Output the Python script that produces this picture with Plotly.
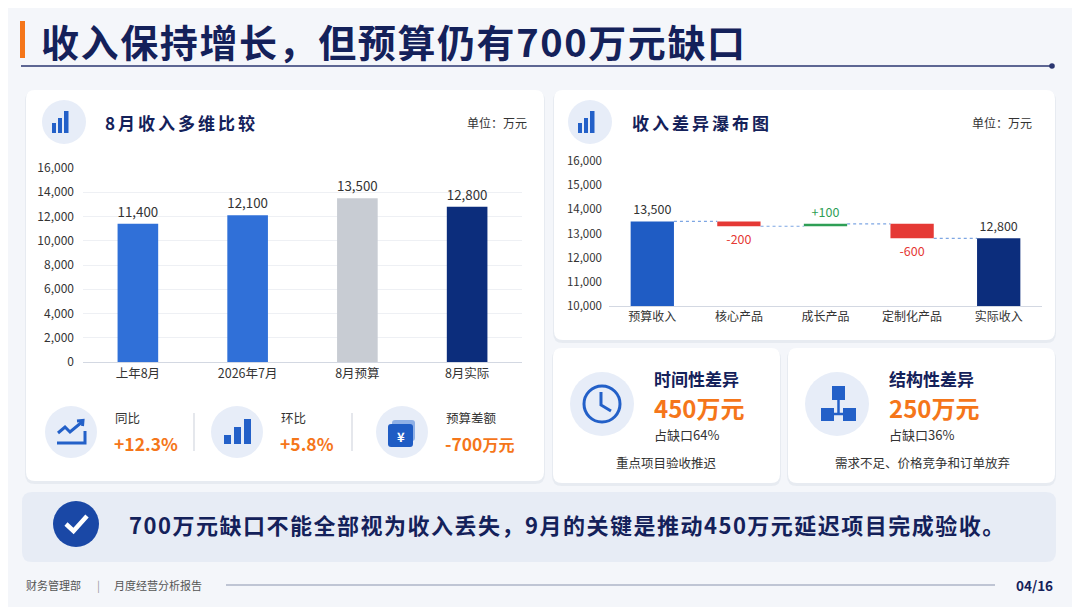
import plotly.graph_objects as go

W, H = 1080, 607
OFF = 8  # page margin the browser adds round the figure
FONT = 'Noto Sans CJK SC'
NAVY = '#14215a'
ORANGE = '#f5761a'
BLUE = '#2360c8'

# data
months = ['上年8月', '2026年7月', '8月预算', '8月实际']
month_rev = [11400, 12100, 13500, 12800]
month_colors = ['#3070d8', '#3070d8', '#c8ccd3', '#0c2d7c']

wf_cats = ['预算收入', '核心产品', '成长产品', '定制化产品', '实际收入']
wf_start = 13500
wf_deltas = [-200, 100, -600]
wf_end = 12800
wf_colors = ['#1f5cc4', '#e53935', '#2e9e55', '#e53935', '#0c2d7c']
wf_text_colors = ['#333333', '#e53935', '#2e9e55', '#e53935', '#333333']

kpi_names = ['同比', '环比', '预算差额']
kpi_values = ['+12.3%', '+5.8%', '-700']
kpi_units = ['', '', '万元']

gap_names = ['时间性差异', '结构性差异']
gap_amounts = [450, 250]
gap_shares = [64, 36]
gap_reasons = ['重点项目验收推迟', '需求不足、价格竞争和订单放弃']


def X(px):
    return (px - OFF) / W


def Y(py):
    return 1 - (py - OFF) / H


def P(x, y):
    return f'{X(x):.5f},{Y(y):.5f}'


shapes = []
ann = []


def rrect(x0, y0, x1, y1, r, fill, layer='below', line=None):
    path = (f'M {P(x0 + r, y0)} L {P(x1 - r, y0)} Q {P(x1, y0)} {P(x1, y0 + r)} '
            f'L {P(x1, y1 - r)} Q {P(x1, y1)} {P(x1 - r, y1)} L {P(x0 + r, y1)} '
            f'Q {P(x0, y1)} {P(x0, y1 - r)} L {P(x0, y0 + r)} Q {P(x0, y0)} {P(x0 + r, y0)} Z')
    shapes.append(dict(type='path', xref='paper', yref='paper', path=path, fillcolor=fill,
                       line=line or dict(width=0), layer=layer))


def rect(x0, y0, x1, y1, fill):
    shapes.append(dict(type='rect', xref='paper', yref='paper', x0=X(x0), x1=X(x1), y0=Y(y1), y1=Y(y0),
                       fillcolor=fill, line=dict(width=0), layer='above'))


def circle(cx, cy, r, fill, line=None):
    shapes.append(dict(type='circle', xref='paper', yref='paper', x0=X(cx - r), x1=X(cx + r),
                       y0=Y(cy + r), y1=Y(cy - r), fillcolor=fill, line=line or dict(width=0),
                       layer='above'))


def seg(pts, color, width):
    path = 'M ' + ' L '.join(P(x, y) for x, y in pts)
    shapes.append(dict(type='path', xref='paper', yref='paper', path=path,
                       line=dict(color=color, width=width), layer='above'))


def card(x0, y0, x1, y1):
    rrect(x0 - 1, y0 + 1, x1 + 1, y1 + 3, 10, 'rgba(40,60,110,0.06)')
    rrect(x0, y0, x1, y1, 9, '#ffffff')


def txt(x, y, s, size, color, anchor='left', bold=False, spacing=0):
    if spacing:
        s = f'<span style="letter-spacing:{spacing}px">{s}</span>'
    ann.append(dict(x=X(x), y=Y(y), xref='paper', yref='paper', text=f'<b>{s}</b>' if bold else s,
                    showarrow=False, xanchor=anchor, yanchor='middle',
                    font=dict(family=FONT, size=size, color=color)))


def bars_icon(cx, cy):
    circle(cx, cy, 22, '#e7edf8')
    rect(cx - 12, cy + 1, cx - 8, cy + 11, BLUE)
    rect(cx - 6, cy - 4, cx - 2, cy + 11, BLUE)
    rect(cx, cy - 11, cx + 4.5, cy + 11, BLUE)


# title block
rect(20, 21, 25, 58, ORANGE)
txt(39, 41, '收入保持增长，但预算仍有700万元缺口', 38, NAVY, bold=True, spacing=1.6)
seg([(21, 66), (1051, 66)], '#2b3670', 1.6)
circle(1052, 66, 2.8, '#2b3670')

# cards
card(26, 90, 544, 481)
card(554, 90, 1055, 340)
card(553, 348, 780, 483)
card(788, 348, 1055, 483)
rrect(22, 492, 1056, 562, 10, '#e7ecf5')

# headers
bars_icon(64, 122)
txt(103, 123, '8月收入多维比较', 17, NAVY, bold=True, spacing=3)
txt(529, 123, '单位：万元', 12, '#333333', anchor='right')
bars_icon(590, 122)
txt(630, 123, '收入差异瀑布图', 17, NAVY, bold=True, spacing=3)
txt(1034, 123, '单位：万元', 12, '#333333', anchor='right')

# KPI row
kpi_x = [71, 237, 402]
for i, cx in enumerate(kpi_x):
    circle(cx, 432, 26, '#e7edf8')
    txt(cx + 42, 417, kpi_names[i], 12.5, '#333333')
    val = f'<b>{kpi_values[i]}</b>'
    if kpi_units[i]:
        val += f'<span style="font-size:16px"><b>{kpi_units[i]}</b></span>'
    ann.append(dict(x=X(cx + 41), y=Y(443), xref='paper', yref='paper', text=val, showarrow=False,
                    xanchor='left', yanchor='middle', font=dict(family=FONT, size=17.5, color=ORANGE)))
for dx in [194, 352]:
    seg([(dx, 413), (dx, 451)], '#d4d8e0', 1.2)
# trend icon
seg([(58, 433), (65, 427), (70, 432), (82, 422)], BLUE, 3)
seg([(77, 421), (83, 420.5), (82.5, 426)], BLUE, 3)
seg([(57, 443), (85, 443), (85, 431)], BLUE, 3)
# bars icon
rect(224, 435, 231, 444, BLUE)
rect(234, 427, 241, 444, BLUE)
rect(244, 419, 251, 444, BLUE)
# wallet icon
rrect(392, 420, 415, 441, 3, '#8fb0e6', layer='above')
rrect(388, 424, 413, 447, 3, '#1f5cc4', layer='above')
txt(400.5, 436, '<b>¥</b>', 13, '#ffffff', anchor='center')

# gap cards
for i, cx in enumerate([602, 837]):
    circle(cx, 404, 32, '#e7edf8')
    tx = cx + 50
    txt(tx, 378, gap_names[i], 17, NAVY, bold=True)
    ann.append(dict(x=X(tx), y=Y(407), xref='paper', yref='paper',
                    text=f'<b>{gap_amounts[i]}万元</b>', showarrow=False, xanchor='left',
                    yanchor='middle', font=dict(family=FONT, size=24, color=ORANGE)))
    txt(tx, 434, f'占缺口{gap_shares[i]}%', 13, '#333333')
txt(666, 463, gap_reasons[0], 12.5, '#333333', anchor='center')
txt(922, 463, gap_reasons[1], 12.5, '#333333', anchor='center')
# clock icon
circle(602, 404, 18, 'rgba(0,0,0,0)', line=dict(color=BLUE, width=3))
seg([(601, 392), (601, 405), (611, 411)], BLUE, 3)
# structure icon
rect(832, 386, 845, 400, BLUE)
rect(821, 408, 834, 421, BLUE)
rect(843, 408, 856, 421, BLUE)
seg([(838.5, 400), (838.5, 414)], BLUE, 2.5)
seg([(833, 414), (844, 414)], BLUE, 2.5)

# banner
circle(76, 524, 23, '#1a48a6')
seg([(66, 524), (73.5, 531), (87, 516)], '#ffffff', 4.5)
txt(127, 524, '700万元缺口不能全部视为收入丢失，9月的关键是推动450万元延迟项目完成验收。', 22, NAVY,
    bold=True, spacing=1.5)

# footer
txt(24, 585, '财务管理部', 11, '#555555')
txt(98, 585, '|', 11, '#999999', anchor='center')
txt(112, 585, '月度经营分析报告', 11, '#555555')
seg([(226, 585), (995, 585)], '#8a93ad', 1.2)
txt(1055, 585, '04/16', 13.5, NAVY, anchor='right', bold=True)

fig = go.Figure()

fig.add_trace(go.Bar(x=months, y=month_rev, marker=dict(color=month_colors, line=dict(width=0)),
                     width=0.37, text=[f'{v:,}' for v in month_rev], textposition='outside',
                     textfont=dict(family=FONT, size=13.5, color='#333333'), cliponaxis=False,
                     xaxis='x', yaxis='y', hoverinfo='skip'))

# waterfall built from start, deltas and end
wf_base = [0]
wf_y = [wf_start]
levels = [wf_start]
lvl = wf_start
for d in wf_deltas:
    wf_base.append(lvl)
    wf_y.append(d)
    lvl += d
    levels.append(lvl)
wf_base.append(0)
wf_y.append(wf_end)
wf_text = [f'{wf_start:,}'] + [f'{d:+d}' for d in wf_deltas] + [f'{wf_end:,}']
idx = list(range(len(wf_cats)))
fig.add_trace(go.Bar(x=idx, y=wf_y, base=wf_base, width=0.5,
                     marker=dict(color=wf_colors, line=dict(width=0)),
                     text=wf_text, textposition='outside',
                     textfont=dict(family=FONT, size=12.5, color=wf_text_colors), cliponaxis=False,
                     xaxis='x2', yaxis='y2', hoverinfo='skip'))
cx, cy = [], []
for i, lv in enumerate(levels):
    cx += [i + 0.25, i + 0.75, None]
    cy += [lv, lv, None]
fig.add_trace(go.Scatter(x=cx, y=cy, mode='lines', line=dict(color='#7ea6e3', width=1.2, dash='dot'),
                         xaxis='x2', yaxis='y2', hoverinfo='skip'))

fig.update_layout(
    width=W, height=H, margin=dict(l=0, r=0, t=0, b=0, pad=0, autoexpand=False),
    paper_bgcolor='#f4f6fa', plot_bgcolor='rgba(0,0,0,0)',
    showlegend=False, bargap=0.5,
    font=dict(family=FONT, size=12, color='#333333'),
    shapes=shapes, annotations=ann,
    xaxis=dict(domain=[X(83), X(522)], anchor='y', showgrid=False, showline=True, linecolor='#d3d8e2',
               ticks='', tickfont=dict(size=12.5, color='#333333'), fixedrange=True, automargin=False),
    yaxis=dict(domain=[Y(362), Y(168)], anchor='x', range=[0, 16000], dtick=2000, tickformat=',',
               showgrid=True, gridcolor='#eef0f4', zeroline=False, showline=False, ticks='',
               ticklabelstandoff=8, tickfont=dict(size=12, color='#333333'), fixedrange=True,
               automargin=False),
    xaxis2=dict(domain=[X(609), X(1042)], anchor='y2', range=[-0.5, 4.5], tickvals=idx,
                ticktext=wf_cats, showgrid=False, showline=True, linecolor='#d3d8e2', ticks='',
                zeroline=False, tickfont=dict(size=12, color='#333333'), fixedrange=True,
                automargin=False),
    yaxis2=dict(domain=[Y(306), Y(161)], range=[10000, 16000], dtick=1000, tickformat=',',
                anchor='x2', showgrid=False, zeroline=False, showline=False, ticks='',
                ticklabelstandoff=6, tickfont=dict(size=11.5, color='#333333'), fixedrange=True,
                automargin=False),
)

fig.write_html('out.html')
